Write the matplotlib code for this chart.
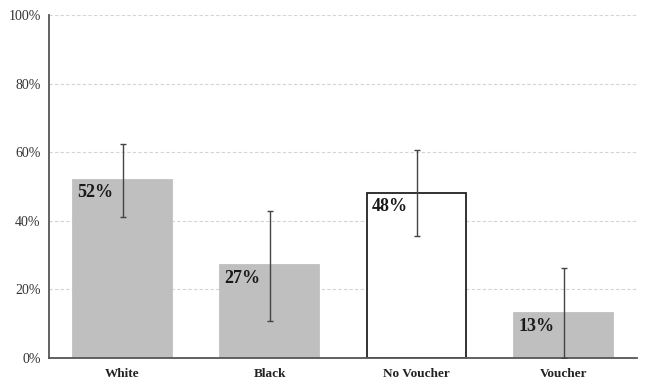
import matplotlib.pyplot as plt
import numpy as np

categories = ["White", "Black", "No Voucher", "Voucher"]
values = [52, 27, 48, 13]
err_low = [41.2, 10.8, 35.6, 0]
err_high = [62.4, 42.9, 60.5, 26.2]
labels = ["52%", "27%", "48%", "13%"]
yticks = [0, 20, 40, 60, 80, 100]

plt.rcParams['font.family'] = ['Liberation Serif', 'DejaVu Serif']

fig = plt.figure(figsize=(6.51, 3.91), dpi=100)
ax = fig.add_axes([49 / 651, 1 - 358 / 391, (637 - 49) / 651, (358 - 15) / 391])

x = np.arange(len(categories))
fills = ["#bfbfbf", "#bfbfbf", "white", "#bfbfbf"]
edges = ["#bfbfbf", "#bfbfbf", "#222222", "#bfbfbf"]
width = 0.67

ax.bar(x, values, width=width, color=fills, edgecolor=edges, linewidth=1.3, zorder=2)

vals = np.array(values)
yerr = np.array([vals - np.array(err_low), np.array(err_high) - vals])
ax.errorbar(x, vals, yerr=yerr, fmt='none', ecolor='#444444', elinewidth=1,
            capsize=2.2, capthick=1, zorder=3)

for xi, v, lab in zip(x, values, labels):
    ax.annotate(lab, xy=(xi - width / 2, v), xytext=(4, -13), textcoords='offset pixels',
                ha='left', va='center', fontsize=13, fontweight='bold', color='#1a1a1a', zorder=4)

ax.set_xlim(-0.5, 3.5)
ax.set_ylim(0, 100)
ax.set_yticks(yticks)
ax.set_yticklabels([f"{t}%" for t in yticks], fontsize=10, color='#333333')
ax.set_xticks(x)
ax.set_xticklabels(categories, fontsize=9.5, fontweight='bold', color='#222222')
ax.tick_params(length=0, pad=6)
ax.tick_params(axis='x', pad=7)

ax.yaxis.grid(True, linestyle=(0, (3, 2)), color='#d4d4d4', linewidth=0.8, zorder=0)
ax.set_axisbelow(True)
for s in ['top', 'right']:
    ax.spines[s].set_visible(False)
for s in ['left', 'bottom']:
    ax.spines[s].set_color('#555555')
    ax.spines[s].set_linewidth(1.3)

fig.savefig("out.png", dpi=100)
